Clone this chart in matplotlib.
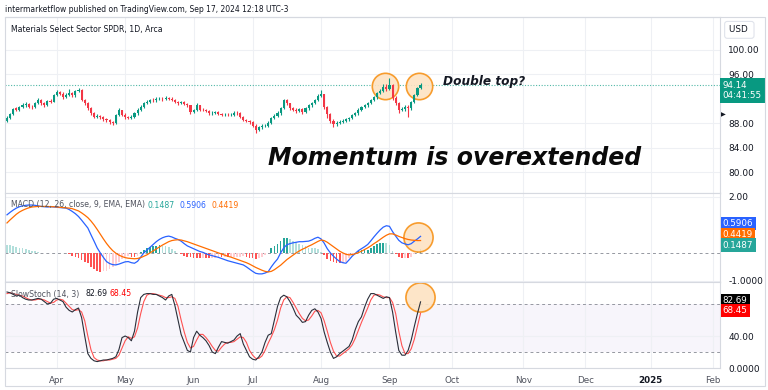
import numpy as np
import pandas as pd
import matplotlib.pyplot as plt
from matplotlib.patches import Rectangle

# daily candles, XLB (Materials Select Sector SPDR), Mar 7 - Sep 17 2024
open_ = [88.4, 88.8, 89.5, 90.4, 90.2, 90.6, 90.9, 91.1, 90.7, 90.6, 91.3, 91.8, 91.2, 91.0, 91.6, 91.5, 92.6, 93.1, 92.8, 92.3,
         92.6, 92.9, 92.5, 93.2, 93.4, 91.8, 91.2, 90.4, 89.6, 89.0, 89.2, 89.0, 88.6, 88.5, 88.2, 88.0, 89.3, 90.1, 89.4, 89.0,
         88.8, 89.0, 89.6, 90.2, 90.6, 91.3, 91.5, 91.8, 91.7, 91.9, 92.0, 91.9, 92.1, 92.0, 91.8, 91.4, 91.3, 91.4, 91.1, 90.9,
         89.8, 90.1, 90.9, 90.2, 90.1, 90.0, 89.6, 89.7, 89.8, 89.5, 89.3, 89.4, 89.3, 89.4, 89.7, 89.6, 89.0, 88.5, 88.3, 88.2,
         87.6, 86.9, 87.3, 87.5, 87.6, 88.0, 88.8, 89.2, 89.6, 90.4, 91.7, 91.2, 90.5, 90.2, 90.0, 90.3, 89.8, 90.4, 90.9, 91.3,
         91.8, 92.4, 92.7, 90.6, 89.5, 88.4, 87.8, 88.0, 88.2, 88.4, 88.6, 88.8, 89.3, 89.6, 90.2, 90.6, 90.9, 91.3, 91.8, 92.2,
         92.9, 93.3, 93.9, 93.6, 94.2, 92.1, 91.3, 90.1, 90.3, 90.6, 90.4, 91.4, 92.6, 93.7]
high = [89.1, 89.7, 90.5, 90.7, 90.8, 91.2, 91.4, 91.3, 91.0, 91.5, 92.1, 92.0, 91.4, 91.8, 91.9, 92.8, 93.4, 93.3, 93.0, 92.9,
        93.6, 93.1, 93.4, 93.7, 93.5, 92.0, 91.4, 90.6, 89.8, 89.5, 89.4, 89.2, 88.9, 88.7, 88.4, 89.5, 90.4, 90.2, 89.6, 89.2,
        89.3, 89.8, 90.4, 90.9, 91.5, 91.8, 92.0, 92.1, 92.2, 92.3, 92.2, 92.4, 92.3, 92.2, 92.0, 91.6, 91.6, 91.6, 91.3, 91.0,
        90.3, 91.2, 91.0, 90.4, 90.3, 90.2, 89.9, 90.0, 90.0, 89.7, 89.6, 89.6, 89.6, 89.9, 89.9, 89.8, 89.2, 88.7, 88.5, 88.4,
        87.8, 87.5, 87.8, 87.9, 88.3, 89.0, 89.5, 89.9, 90.6, 92.0, 91.9, 91.3, 90.7, 90.4, 90.5, 90.4, 90.6, 91.1, 91.5, 92.0,
        92.7, 93.4, 92.8, 90.8, 89.7, 88.6, 88.3, 88.5, 88.7, 88.9, 89.0, 89.5, 89.8, 90.4, 90.8, 91.1, 91.5, 92.0, 92.4, 93.1,
        93.6, 94.3, 94.4, 95.4, 94.3, 92.4, 91.5, 90.6, 90.9, 90.9, 91.6, 92.8, 93.9, 94.6]
low = [88.2, 88.6, 89.3, 90.0, 90.0, 90.4, 90.7, 90.5, 90.3, 90.4, 91.1, 91.0, 90.7, 90.8, 91.2, 91.4, 92.4, 92.5, 92.0, 92.1,
       92.4, 92.2, 92.3, 93.0, 91.6, 90.9, 90.1, 89.3, 88.8, 88.8, 88.7, 88.4, 88.2, 87.9, 87.7, 87.9, 89.1, 89.1, 88.7, 88.6,
       88.6, 88.9, 89.4, 90.0, 90.4, 91.1, 91.3, 91.5, 91.5, 91.7, 91.6, 91.7, 91.8, 91.6, 91.2, 91.0, 91.1, 90.9, 90.6, 89.5,
       89.6, 90.0, 90.0, 89.9, 89.8, 89.4, 89.4, 89.5, 89.3, 89.1, 89.1, 89.1, 89.1, 89.2, 89.4, 88.8, 88.3, 88.1, 87.9, 87.3,
       86.4, 86.7, 87.1, 87.3, 87.4, 87.9, 88.6, 89.0, 89.4, 90.3, 90.9, 90.2, 89.9, 89.7, 89.8, 89.5, 89.6, 90.2, 90.7, 91.1,
       91.6, 92.2, 90.3, 88.9, 88.0, 87.3, 87.5, 87.8, 88.0, 88.2, 88.4, 88.6, 89.1, 89.4, 90.0, 90.4, 90.7, 91.1, 91.6, 92.0,
       92.7, 93.1, 93.3, 93.4, 91.8, 91.0, 89.7, 89.9, 90.0, 89.0, 90.2, 91.2, 92.4, 93.5]
close = [88.8, 89.5, 90.3, 90.2, 90.6, 90.9, 91.1, 90.7, 90.6, 91.3, 91.8, 91.2, 91.0, 91.6, 91.5, 92.6, 93.1, 92.8, 92.3, 92.6,
         92.9, 92.5, 93.2, 93.4, 91.8, 91.2, 90.4, 89.6, 89.0, 89.2, 89.0, 88.6, 88.5, 88.2, 88.0, 89.3, 90.1, 89.4, 89.0, 88.8,
         89.0, 89.6, 90.2, 90.6, 91.3, 91.5, 91.8, 91.7, 91.9, 92.0, 91.9, 92.1, 92.0, 91.8, 91.4, 91.3, 91.4, 91.1, 90.9, 89.8,
         90.1, 90.9, 90.2, 90.1, 90.0, 89.6, 89.7, 89.8, 89.5, 89.3, 89.4, 89.3, 89.4, 89.7, 89.6, 89.0, 88.5, 88.3, 88.2, 87.6,
         86.9, 87.3, 87.5, 87.6, 88.0, 88.8, 89.2, 89.6, 90.4, 91.7, 91.2, 90.5, 90.2, 90.0, 90.3, 89.8, 90.4, 90.9, 91.3, 91.8,
         92.4, 92.7, 90.6, 89.5, 88.4, 87.8, 88.0, 88.2, 88.4, 88.6, 88.8, 89.3, 89.6, 90.2, 90.6, 90.9, 91.3, 91.8, 92.2, 92.9,
         93.3, 93.9, 93.6, 94.2, 92.1, 91.3, 90.1, 90.3, 90.6, 90.4, 91.4, 92.6, 93.7, 94.14]

# MACD (12, 26, 9)
macd = [1.36, 1.45, 1.53, 1.60, 1.65, 1.68, 1.70, 1.71, 1.71, 1.70, 1.68, 1.66, 1.65, 1.64, 1.65, 1.64, 1.63, 1.62, 1.61, 1.60,
        1.55, 1.48, 1.40, 1.30, 1.17, 1.03, 0.89, 0.65, 0.42, 0.18, 0.00, -0.16, -0.31, -0.38, -0.42, -0.43, -0.40, -0.36, -0.32, -0.31,
        -0.35, -0.37, -0.30, -0.15, 0.00, 0.10, 0.20, 0.30, 0.40, 0.48, 0.54, 0.58, 0.60, 0.57, 0.52, 0.48, 0.42, 0.33, 0.25, 0.20,
        0.15, 0.10, 0.05, 0.02, -0.03, -0.07, -0.10, -0.13, -0.16, -0.20, -0.24, -0.28, -0.31, -0.34, -0.37, -0.40, -0.43, -0.50, -0.58, -0.66,
        -0.73, -0.75, -0.75, -0.72, -0.67, -0.50, -0.35, -0.22, 0.00, 0.18, 0.29, 0.33, 0.36, 0.38, 0.40, 0.40, 0.41, 0.42, 0.46, 0.52,
        0.56, 0.50, 0.35, 0.15, 0.00, -0.12, -0.22, -0.31, -0.35, -0.37, -0.25, -0.12, -0.02, 0.08, 0.15, 0.22, 0.30, 0.43, 0.57, 0.70,
        0.82, 0.92, 0.97, 0.95, 0.76, 0.60, 0.45, 0.36, 0.32, 0.29, 0.33, 0.42, 0.50, 0.5906]
signal = [1.07, 1.18, 1.28, 1.38, 1.46, 1.52, 1.57, 1.61, 1.64, 1.65, 1.66, 1.66, 1.66, 1.66, 1.65, 1.65, 1.64, 1.63, 1.62, 1.61,
          1.60, 1.58, 1.54, 1.50, 1.43, 1.35, 1.26, 1.14, 1.00, 0.84, 0.67, 0.50, 0.34, 0.20, 0.08, -0.01, -0.08, -0.13, -0.17, -0.19,
          -0.20, -0.21, -0.20, -0.17, -0.12, -0.07, 0.00, 0.07, 0.14, 0.21, 0.28, 0.34, 0.40, 0.44, 0.46, 0.47, 0.46, 0.43, 0.40, 0.36,
          0.32, 0.28, 0.24, 0.20, 0.16, 0.12, 0.08, 0.04, 0.00, -0.04, -0.08, -0.12, -0.15, -0.19, -0.23, -0.27, -0.31, -0.35, -0.40, -0.46,
          -0.52, -0.57, -0.62, -0.66, -0.68, -0.66, -0.60, -0.52, -0.44, -0.34, -0.24, -0.16, -0.08, 0.00, 0.07, 0.13, 0.18, 0.24, 0.29, 0.35,
          0.41, 0.46, 0.44, 0.38, 0.30, 0.22, 0.14, 0.06, 0.00, -0.05, -0.07, -0.06, -0.03, 0.01, 0.06, 0.12, 0.18, 0.25, 0.33, 0.40,
          0.48, 0.56, 0.63, 0.68, 0.68, 0.64, 0.59, 0.55, 0.51, 0.48, 0.46, 0.45, 0.44, 0.4419]

# Slow stochastic (14, 3)
stoch_k = [95, 94, 92, 90, 91, 88, 86, 85, 85, 86, 87, 86, 83, 80, 81, 86, 87, 85, 83, 76,
           72, 70, 73, 75, 63, 40, 18, 12, 9, 8, 9, 10, 10, 11, 12, 14, 23, 38, 40, 38,
           34, 46, 70, 88, 92, 93, 93, 92, 92, 90, 88, 85, 90, 92, 78, 60, 42, 32, 22, 20,
           38, 46, 41, 38, 34, 28, 20, 18, 26, 33, 32, 31, 33, 35, 40, 43, 30, 22, 14, 11,
           10, 14, 20, 32, 41, 43, 60, 77, 88, 91, 89, 83, 75, 66, 62, 57, 58, 66, 72, 74,
           70, 62, 45, 32, 20, 12, 14, 18, 21, 24, 27, 35, 48, 58, 64, 76, 86, 93, 93, 91,
           89, 87, 89, 88, 70, 45, 22, 16, 16, 22, 35, 52, 68, 82.69]
stoch_d = [93, 94, 93, 92, 91, 90, 88, 86, 85, 85, 86, 86, 85, 83, 81, 82, 85, 86, 85, 81,
           77, 73, 72, 73, 70, 59, 40, 23, 13, 10, 9, 9, 10, 10, 11, 12, 16, 25, 34, 39,
           37, 39, 50, 68, 83, 91, 93, 93, 92, 91, 90, 88, 88, 89, 87, 77, 60, 45, 32, 25,
           27, 35, 42, 42, 38, 33, 27, 22, 21, 26, 30, 32, 32, 33, 36, 39, 38, 32, 22, 16,
           12, 12, 15, 22, 31, 39, 48, 60, 75, 85, 89, 88, 82, 75, 68, 62, 59, 60, 65, 71,
           72, 69, 59, 46, 32, 21, 15, 15, 18, 21, 24, 29, 37, 47, 57, 66, 75, 85, 91, 92,
           91, 89, 88, 88, 82, 68, 46, 28, 18, 18, 24, 36, 52, 68.45]

month_labels = ['Apr', 'May', 'Jun', 'Jul', 'Aug', 'Sep', 'Oct', 'Nov', 'Dec', '2025', 'Feb']
price_ticks = [80, 84, 88, 96, 100]

holidays = pd.to_datetime(['2024-03-29', '2024-05-27', '2024-06-19', '2024-07-04', '2024-09-02',
                           '2024-11-28', '2024-12-25', '2025-01-01', '2025-01-09', '2025-01-20'])
days = pd.bdate_range('2024-03-07', '2025-02-28')
days = days[~days.isin(holidays)]
month_pos = [i for i in range(1, len(days)) if days[i].month != days[i - 1].month]

UP, DOWN = '#089981', '#f23645'
GRID = '#eef0f4'
SEP = '#d6d9e0'
TXT = '#131722'

W, H = 768, 390
fig = plt.figure(figsize=(W / 100, H / 100), dpi=100)
plt.rcParams['font.family'] = ['DejaVu Sans']

def box(y0, y1):
    return [5 / W, 1 - y1 / H, 715 / W, (y1 - y0) / H]

ax_p = fig.add_axes(box(17, 193))
ax_m = fig.add_axes(box(193, 282))
ax_s = fig.add_axes(box(282, 368))

x = np.arange(len(close))
xlim = (-0.64, 229.3)
for ax in (ax_p, ax_m, ax_s):
    ax.set_xlim(*xlim)
    ax.set_xticks(month_pos[:len(month_labels)])
    ax.grid(True, color=GRID, lw=0.8)
    ax.set_axisbelow(True)
    ax.yaxis.tick_right()
    ax.tick_params(length=0, labelsize=6.5, colors=TXT, pad=6)
    for s in ax.spines.values():
        s.set_color(SEP)
        s.set_linewidth(0.8)
    ax.spines['left'].set_visible(False)
ax_p.tick_params(labelbottom=False)
ax_m.tick_params(labelbottom=False)

# ---- price pane
o, h, l, c = map(np.array, (open_, high, low, close))
col = np.where(c >= o, UP, DOWN)
ax_p.vlines(x, l, h, color=col, lw=0.8, zorder=3)
ax_p.bar(x, np.maximum(np.abs(c - o), 0.08), bottom=np.minimum(o, c), width=0.68, color=col, zorder=3)
ax_p.set_ylim(76.6, 105.3)
ax_p.set_yticks(price_ticks)
ax_p.set_yticklabels([f'{v:.2f}' for v in price_ticks])
ax_p.axhline(close[-1], color=UP, lw=0.8, ls=(0, (1, 1.5)), alpha=0.7, zorder=2)
for xi in (121.6, 132.6):
    ax_p.plot(xi, 94.0, 'o', ms=19, mfc='#fde3c2', mec='#f7931a', mew=1.2, alpha=0.9, zorder=2)
ax_p.text(1.004, 93.3, f'{close[-1]:.2f}\n04:41:55', transform=ax_p.get_yaxis_transform(), ha='left', va='center',
          color='white', fontsize=6.3, linespacing=1.2, clip_on=False,
          bbox=dict(boxstyle='square,pad=0.3', fc=UP, ec='none'))
ax_p.text(1.012, 103.2, 'USD ', transform=ax_p.get_yaxis_transform(), ha='left', va='center', color=TXT,
          fontsize=6.3, clip_on=False,
          bbox=dict(boxstyle='round,pad=0.45,rounding_size=0.3', fc='white', ec='#e0e3eb', lw=0.8))
ax_p.text(1.002, 89.4, '\u25B6', transform=ax_p.get_yaxis_transform(), ha='left', va='center', color=TXT,
          fontsize=4.5, clip_on=False)
ax_p.text(0.008, 0.93, 'Materials Select Sector SPDR, 1D, Arca', transform=ax_p.transAxes, fontsize=5.6,
          color=TXT, va='center')

# ---- MACD pane
m, sg = np.array(macd), np.array(signal)
hist = m - sg
hcol = []
for i, v in enumerate(hist):
    rising = i > 0 and v > hist[i - 1]
    if v >= 0:
        hcol.append('#26a69a' if rising else '#b2dfdb')
    else:
        hcol.append('#ffcdd2' if rising else '#ff5252')
ax_m.bar(x, hist, width=0.55, color=hcol, zorder=2)
ax_m.plot(x, m, color='#2962ff', lw=0.9, zorder=4)
ax_m.plot(x, sg, color='#ff6d00', lw=0.9, zorder=4)
ax_m.axhline(0, color='#9598a1', lw=0.7, ls=(0, (3, 3)), zorder=1)
ax_m.plot(132.3, 0.57, 'o', ms=21, mfc='#fde3c2', mec='#f7931a', mew=1.2, alpha=0.9, zorder=3)
ax_m.set_ylim(-1.04, 2.14)
ax_m.set_yticks([2.0, -1.0])
ax_m.set_yticklabels(['2.00', '-1.0000'])
for val, ypos, fc in ((macd[-1], 1.04, '#2962ff'), (signal[-1], 0.66, '#ff6d00'), (hist[-1], 0.28, '#26a69a')):
    ax_m.text(1.004, ypos, f'{val:.4f}', transform=ax_m.get_yaxis_transform(), ha='left', va='center',
              color='white', fontsize=6.3, clip_on=False,
              bbox=dict(boxstyle='square,pad=0.25', fc=fc, ec='none'))
fig.text(11 / W, 1 - 205 / H, 'MACD (12, 26, close, 9, EMA, EMA)', fontsize=5.6, color='#50535e', va='center')
fig.text(148 / W, 1 - 205 / H, f'{hist[-1]:.4f}', fontsize=5.6, color='#26a69a', va='center')
fig.text(180 / W, 1 - 205 / H, f'{macd[-1]:.4f}', fontsize=5.6, color='#2962ff', va='center')
fig.text(212 / W, 1 - 205 / H, f'{signal[-1]:.4f}', fontsize=5.6, color='#ff6d00', va='center')

# ---- Stochastic pane
ax_s.axhspan(20, 80, color='#7e57c2', alpha=0.06, lw=0, zorder=0)
ax_s.axhline(80, color='#9598a1', lw=0.7, ls=(0, (3, 3)))
ax_s.axhline(20, color='#9598a1', lw=0.7, ls=(0, (3, 3)))
ax_s.plot(x, stoch_d, color='#ff5252', lw=0.8, zorder=3)
ax_s.plot(x, stoch_k, color='#2a2e39', lw=0.8, zorder=4)
ax_s.plot(132.8, 89, 'o', ms=21, mfc='#fde3c2', mec='#f7931a', mew=1.2, alpha=0.9, zorder=2)
ax_s.set_ylim(0, 107.5)
ax_s.set_yticks([40, 0])
ax_s.set_yticklabels(['40.00', '0.0000'])
for val, ypos, fc in ((stoch_k[-1], 84.5, '#000000'), (stoch_d[-1], 71.5, '#ff0000')):
    ax_s.text(1.004, ypos, f'{val:.2f}', transform=ax_s.get_yaxis_transform(), ha='left', va='center',
              color='white', fontsize=6.3, clip_on=False,
              bbox=dict(boxstyle='square,pad=0.25', fc=fc, ec='none'))
fig.text(11 / W, 1 - 294 / H, 'SlowStoch (14, 3)', fontsize=5.6, color='#50535e', va='center')
fig.text(85 / W, 1 - 294 / H, f'{stoch_k[-1]:.2f}', fontsize=5.6, color='#131722', va='center')
fig.text(110 / W, 1 - 294 / H, f'{stoch_d[-1]:.2f}', fontsize=5.6, color='#ff0000', va='center')

ax_s.set_xticklabels(month_labels)
ax_s.tick_params(axis='x', pad=6, labelsize=6.3, labelcolor='#50535e')
for t in ax_s.get_xticklabels():
    if t.get_text() == '2025':
        t.set_fontweight('bold')
        t.set_color(TXT)

# ---- annotations and frame
fig.text(443 / W, 1 - 82 / H, 'Double top?', fontsize=8.7, style='italic', fontweight='semibold', color=TXT,
         va='center')
fig.text(268 / W, 1 - 158 / H, 'Momentum is overextended', fontsize=17, style='italic', fontweight='bold',
         color='#0a0a0a', va='center')
fig.text(5 / W, 1 - 10 / H, 'intermarketflow published on TradingView.com, Sep 17, 2024 12:18 UTC-3',
         fontsize=5.5, color=TXT, va='center')
fig.patches.append(Rectangle((5 / W, 1 - 386 / H), 760 / W, 369 / H, transform=fig.transFigure,
                             fill=False, ec=SEP, lw=0.8))

fig.savefig('out.png', dpi=100)
